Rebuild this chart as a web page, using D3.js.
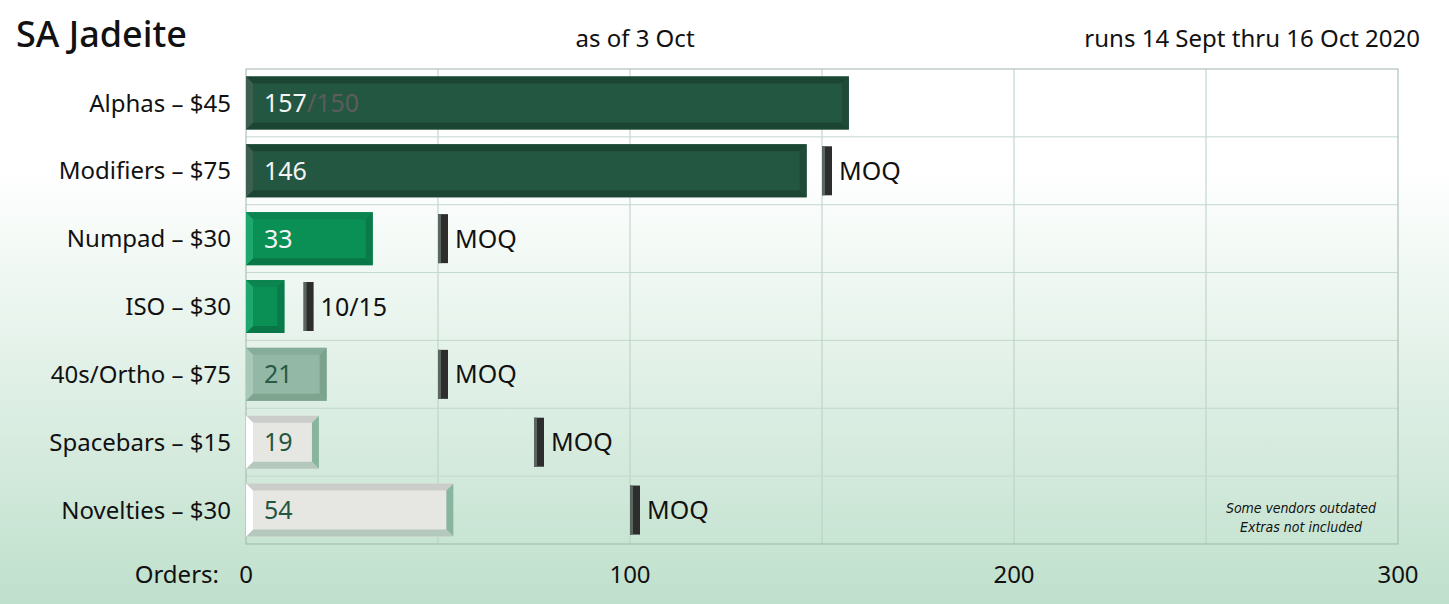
<!DOCTYPE html>
<html><head><meta charset="utf-8">
<script src="https://cdn.jsdelivr.net/npm/d3@7"></script>
<style>body{margin:0;overflow:hidden}text{font-family:"Noto Sans",sans-serif}</style>
</head><body><div id="chart"></div>
<script>
var categories = ["Alphas – $45","Modifiers – $75","Numpad – $30","ISO – $30","40s/Ortho – $75","Spacebars – $15","Novelties – $30"];
var orders = [157, 146, 33, 10, 21, 19, 54];
var moq = [150, 150, 50, 15, 50, 75, 100];
var moqLabels = [null, "MOQ", "MOQ", "10/15", "MOQ", "MOQ", "MOQ"];
var styles = ["dark","dark","green","green","muted","light","light"];
var xTicks = [0, 100, 200, 300];

var W = 1449, H = 604, m = {top: 69, left: 246, right: 51, bottom: 60};
var svg = d3.select("#chart").append("svg").attr("width", W).attr("height", H);
var defs = svg.append("defs");
var grad = defs.append("linearGradient").attr("id","bg").attr("x1",0).attr("y1",0).attr("x2",0).attr("y2",1);
grad.append("stop").attr("offset","0%").attr("stop-color","#ffffff");
grad.append("stop").attr("offset","28%").attr("stop-color","#ffffff");
grad.append("stop").attr("offset","100%").attr("stop-color","#bfe0cc");
svg.append("rect").attr("width",W).attr("height",H).attr("fill","url(#bg)");

var x = d3.scaleLinear().domain([0,300]).range([m.left, W - m.right]);
var y = d3.scaleBand().domain(categories).range([m.top, H - m.bottom]).paddingInner(0).paddingOuter(0);
var bh = 53, bv = 7;

var g = svg.append("g");
// grid
g.selectAll(".vg").data(d3.range(50, 300, 50)).enter().append("line")
  .attr("x1", d => x(d)).attr("x2", d => x(d)).attr("y1", m.top).attr("y2", H - m.bottom)
  .attr("stroke", "#b9cfc3").attr("stroke-width", 1);
g.selectAll(".hg").data(categories.slice(1)).enter().append("line")
  .attr("x1", m.left).attr("x2", W - m.right).attr("y1", d => y(d)).attr("y2", d => y(d))
  .attr("stroke", "#c4d8cc").attr("stroke-width", 1);
g.append("rect").attr("x", m.left).attr("y", m.top).attr("width", x(300) - m.left).attr("height", H - m.bottom - m.top)
  .attr("fill", "none").attr("stroke", "#9fb6aa");

var pal = {
  dark: {face:"#245741", top:"#1c4634", bot:"#1c4634", left:"#3d5e50", right:"#1f4a37", txt:"#f4f4f4"},
  green:{face:"#0a8f55", top:"#0c8450", bot:"#087646", left:"#1fa86d", right:"#0b7a4a", txt:"#f4f4f4"},
  muted:{face:"#93b9a6", top:"#86ad99", bot:"#7ea490", left:"#a9c9b8", right:"#7aa28d", txt:"#2a5a45"},
  light:{face:"#e6e6e3", top:"#cbcdca", bot:"#b4c8bd", left:"#ffffff", right:"#88b59e", txt:"#245741"}
};

function bevel(sel, x0, x1, y0, h, p) {
  var y1 = y0 + h, b = Math.min(bv, (x1 - x0) / 2);
  sel.append("rect").attr("x", x0).attr("y", y0).attr("width", x1 - x0).attr("height", h).attr("fill", p.face);
  var poly = (pts, c) => sel.append("polygon").attr("points", pts.map(q => q.join(",")).join(" ")).attr("fill", c);
  poly([[x0,y0],[x1,y0],[x1-b,y0+b],[x0+b,y0+b]], p.top);
  poly([[x0,y1],[x1,y1],[x1-b,y1-b],[x0+b,y1-b]], p.bot);
  poly([[x0,y0],[x0+b,y0+b],[x0+b,y1-b],[x0,y1]], p.left);
  poly([[x1,y0],[x1-b,y0+b],[x1-b,y1-b],[x1,y1]], p.right);
}

categories.forEach(function(c, i) {
  var y0 = y(c) + (y.bandwidth() - bh) / 2, p = pal[styles[i]];
  var row = g.append("g");
  bevel(row, x(0), x(orders[i]), y0, bh, p);
  // moq marker
  var mx = x(moq[i]);
  if (i > 0) {
    row.append("rect").attr("x", mx).attr("y", y0 + 2).attr("width", 10).attr("height", bh - 4).attr("fill", "#2d2d2d");
    row.append("rect").attr("x", mx).attr("y", y0 + 2).attr("width", 3).attr("height", bh - 4).attr("fill", "#5a6660");
    row.append("text").attr("x", mx + 17).attr("y", y0 + bh / 2).attr("dy", "0.36em")
      .attr("font-size", 25).attr("fill", "#111").text(moqLabels[i]);
  }
  if (orders[i] >= 15) {
    var t = row.append("text").attr("x", x(0) + 18).attr("y", y0 + bh / 2).attr("dy", "0.36em")
      .attr("font-size", 25).attr("fill", p.txt);
    t.append("tspan").text(orders[i]);
    if (i === 0) t.append("tspan").attr("fill", "#5c5c5c").text("/" + moq[i]);
  }
  g.append("text").attr("x", 231).attr("y", y(c) + y.bandwidth() / 2).attr("dy", "0.36em")
    .attr("text-anchor", "end").attr("font-size", 24).attr("fill", "#111").text(c);
});

// x axis labels
svg.selectAll(".xt").data(xTicks).enter().append("text")
  .attr("x", d => x(d)).attr("y", 583).attr("text-anchor", "middle")
  .attr("font-size", 24).attr("fill", "#111").text(d => d);
svg.append("text").attr("x", 219).attr("y", 583).attr("text-anchor", "end").attr("font-size", 24).attr("fill", "#111").text("Orders:");

svg.append("text").attr("x", 16).attr("y", 47).attr("font-size", 36).attr("font-weight", 500).attr("fill", "#111").text("SA Jadeite");
svg.append("text").attr("x", 635).attr("y", 47).attr("text-anchor", "middle").attr("font-size", 24).attr("fill", "#111").text("as of 3 Oct");
svg.append("text").attr("x", 1420).attr("y", 47).attr("text-anchor", "end").attr("font-size", 24).attr("fill", "#111").text("runs 14 Sept thru 16 Oct 2020");

var note = svg.append("g").attr("font-size", 14).attr("font-style", "italic").attr("fill", "#111");
note.append("text").attr("x", 1301).attr("y", 513).attr("text-anchor", "middle").attr("textLength", 150).style("font-family", "'DejaVu Sans Condensed','DejaVu Sans',sans-serif").style("font-stretch", "condensed").text("Some vendors outdated");
note.append("text").attr("x", 1301).attr("y", 532).attr("text-anchor", "middle").style("font-family", "'DejaVu Sans Condensed','DejaVu Sans',sans-serif").style("font-stretch", "condensed").text("Extras not included");
</script></body></html>
